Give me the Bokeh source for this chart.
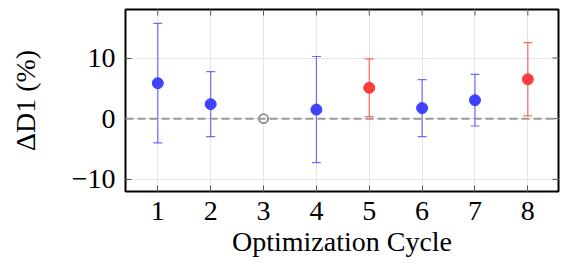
from math import pi
from bokeh.plotting import figure
from bokeh.models import ColumnDataSource, Whisker, TeeHead, Span, FixedTicker
from bokeh.embed import file_html
from bokeh.resources import INLINE

cycles = [1, 2, 3, 4, 5, 6, 7, 8]
delta = [5.85, 2.4, 0.0, 1.5, 5.1, 1.75, 3.05, 6.5]
err = [9.85, 5.35, 0.0, 8.75, 4.75, 4.7, 4.25, 6.05]
group = ["blue", "blue", "base", "blue", "red", "blue", "blue", "red"]

x_ticks = [1, 2, 3, 4, 5, 6, 7, 8]
y_ticks = [-10, 0, 10]
X_MIN, X_MAX = 0.389, 8.58
Y_MIN, Y_MAX = -12, 18

FONT = "'Liberation Serif'"
BLUE = "#4040ff"
RED = "#ff3c3c"
TICK = "#555555"

p = figure(width=560, height=266, x_range=(X_MIN, X_MAX), y_range=(Y_MIN, Y_MAX),
           output_backend="svg", toolbar_location=None,
           min_border_left=125, min_border_right=2, min_border_top=9, min_border_bottom=75)

p.outline_line_color = "black"
p.outline_line_width = 2
p.background_fill_color = "white"
p.border_fill_color = "white"

p.xgrid.grid_line_color = "#e6e6e6"
p.ygrid.grid_line_color = "#e6e6e6"
p.xgrid.ticker = FixedTicker(ticks=x_ticks)
p.ygrid.ticker = FixedTicker(ticks=y_ticks)

for ax in [p.xaxis[0], p.yaxis[0]]:
    ax.axis_line_color = None
    ax.major_tick_in = 6
    ax.major_tick_out = 0
    ax.minor_tick_line_color = None
    ax.major_tick_line_color = TICK
    ax.major_label_text_font = FONT
    ax.major_label_text_font_size = "28px"
    ax.major_label_text_color = "black"
    ax.axis_label_text_font = FONT
    ax.axis_label_text_font_size = "28px"
    ax.axis_label_text_font_style = "normal"
    ax.axis_label_text_color = "black"

p.xaxis[0].ticker = FixedTicker(ticks=x_ticks)
p.yaxis[0].ticker = FixedTicker(ticks=y_ticks)
p.yaxis[0].major_label_overrides = {-10: "\u221210"}
p.xaxis[0].axis_label = "Optimization Cycle"
p.yaxis[0].axis_label = "\u0394D1 (%)"
p.xaxis[0].major_label_standoff = 10
p.yaxis[0].major_label_standoff = 10
p.xaxis[0].axis_label_standoff = 3
p.yaxis[0].axis_label_standoff = 28

# mirrored inward ticks on top and right frame edges
p.scatter(x=x_ticks, y=[Y_MAX] * len(x_ticks), marker="dash", angle=pi / 2,
          size=12, line_color=TICK, line_width=1)
p.scatter(x=[X_MAX] * len(y_ticks), y=y_ticks, marker="dash",
          size=12, line_color=TICK, line_width=1)

p.add_layout(Span(location=0, dimension="width", line_color="#999999",
                  line_width=2, line_dash="8 4"))

def sub(g):
    idx = [i for i, gg in enumerate(group) if gg == g]
    return ColumnDataSource(dict(
        x=[cycles[i] for i in idx],
        y=[delta[i] for i in idx],
        lo=[delta[i] - err[i] for i in idx],
        hi=[delta[i] + err[i] for i in idx],
    ))

for g, col in [("blue", BLUE), ("red", RED)]:
    src = sub(g)
    w = Whisker(source=src, base="x", lower="lo", upper="hi",
                line_color=col, line_alpha=0.75, line_width=1.2,
                upper_head=TeeHead(size=9, line_color=col, line_alpha=0.75, line_width=1.2),
                lower_head=TeeHead(size=9, line_color=col, line_alpha=0.75, line_width=1.2))
    p.add_layout(w)
    p.scatter("x", "y", source=src, size=11, fill_color=col, line_color=col)

bsrc = sub("base")
p.scatter("x", "y", source=bsrc, size=9, fill_color="white", line_color="#888888", line_width=1.8)

open("out.html", "w").write(file_html(p, INLINE))
